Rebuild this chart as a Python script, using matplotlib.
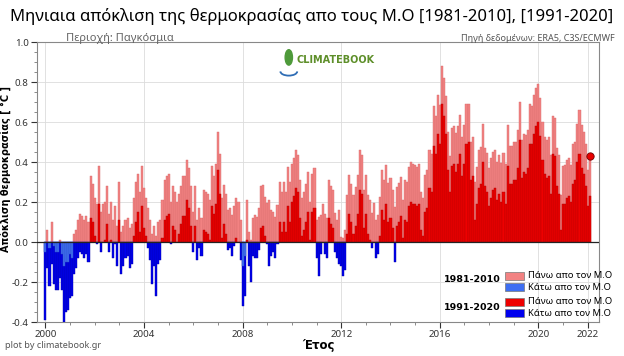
import numpy as np
import matplotlib.pyplot as plt
from matplotlib.patches import Rectangle, Ellipse, Arc

plt.rcParams['font.family'] = ['Noto Sans', 'DejaVu Sans']

# monthly anomalies, Jan 2000 - Feb 2022
anom_8110 = [
    -0.05, 0.06, -0.03, 0.10, -0.02, -0.05, -0.05, 0.01, -0.06, -0.12, -0.10, -0.10,
    -0.06, -0.08, 0.04, 0.06, 0.11, 0.14, 0.13, 0.11, 0.13, 0.10, 0.33, 0.29,
    0.22, 0.19, 0.38, 0.15, 0.19, 0.20, 0.28, 0.14, 0.20, 0.11, 0.18, 0.08,
    0.30, 0.05, 0.08, 0.11, 0.12, 0.07, 0.09, 0.22, 0.30, 0.34, 0.25, 0.38,
    0.27, 0.22, 0.17, 0.11, 0.04, 0.08, 0.03, 0.10, 0.11, 0.21, 0.31, 0.33,
    0.34, 0.20, 0.28, 0.25, 0.20, 0.24, 0.28, 0.33, 0.33, 0.41, 0.37, 0.28,
    0.15, 0.28, 0.11, 0.17, 0.12, 0.26, 0.25, 0.24, 0.21, 0.38, 0.33, 0.39,
    0.55, 0.44, 0.22, 0.285, 0.24, 0.16, 0.17, 0.135, 0.18, 0.22, 0.20, 0.11,
    -0.12, -0.07, 0.21, 0.05, 0.01, 0.12, 0.135, 0.127, 0.17, 0.28, 0.285, 0.227,
    0.193, 0.21, 0.16, 0.15, 0.127, 0.185, 0.30, 0.25, 0.30, 0.25, 0.377, 0.30,
    0.39, 0.42, 0.46, 0.435, 0.31, 0.22, 0.25, 0.29, 0.35, 0.20, 0.34, 0.37,
    0.11, 0.127, 0.135, 0.19, 0.14, 0.118, 0.31, 0.28, 0.26, 0.143, 0.11, 0.16,
    0.027, 0.018, 0.06, 0.235, 0.335, 0.29, 0.235, 0.277, 0.335, 0.46, 0.435, 0.26,
    0.335, 0.235, 0.21, 0.143, 0.193, 0.11, 0.135, 0.227, 0.36, 0.31, 0.385, 0.293,
    0.318, 0.26, 0.177, 0.277, 0.293, 0.327, 0.21, 0.31, 0.30, 0.377, 0.40, 0.39,
    0.385, 0.377, 0.39, 0.25, 0.22, 0.335, 0.36, 0.46, 0.44, 0.68, 0.63, 0.735,
    0.685, 0.88, 0.82, 0.73, 0.55, 0.43, 0.57, 0.58, 0.545, 0.58, 0.635, 0.525,
    0.585, 0.69, 0.69, 0.50, 0.525, 0.30, 0.377, 0.46, 0.477, 0.59, 0.468, 0.443,
    0.368, 0.418, 0.452, 0.46, 0.402, 0.435, 0.393, 0.443, 0.39, 0.585, 0.48, 0.48,
    0.50, 0.50, 0.56, 0.70, 0.51, 0.54, 0.535, 0.56, 0.69, 0.68, 0.735, 0.77,
    0.79, 0.72, 0.60, 0.527, 0.51, 0.527, 0.435, 0.63, 0.62, 0.47, 0.435, 0.235,
    0.38, 0.385, 0.41, 0.418, 0.385, 0.49, 0.50, 0.59, 0.66, 0.585, 0.55, 0.49,
    0.36, 0.43,
]
anom_9120 = [
    -0.39, -0.13, -0.22, -0.11, -0.21, -0.24, -0.24, -0.18, -0.24, -0.40, -0.35, -0.34,
    -0.28, -0.27, -0.16, -0.13, -0.08, -0.05, -0.06, -0.08, -0.06, -0.10, 0.12, 0.10,
    0.03, -0.01, 0.19, -0.05, 0.00, 0.01, 0.09, -0.05, 0.01, -0.08, -0.01, -0.12,
    0.11, -0.16, -0.12, -0.08, -0.07, -0.13, -0.11, 0.03, 0.10, 0.15, 0.05, 0.18,
    0.07, 0.03, -0.03, -0.09, -0.21, -0.12, -0.27, -0.11, -0.09, 0.02, 0.11, 0.13,
    0.14, -0.01, 0.08, 0.06, 0.00, 0.04, 0.09, 0.13, 0.13, 0.21, 0.17, 0.08,
    -0.05, 0.08, -0.09, -0.03, -0.07, 0.06, 0.05, 0.04, 0.01, 0.18, 0.14, 0.19,
    0.36, 0.24, 0.02, 0.09, 0.04, -0.04, -0.03, -0.07, -0.02, 0.02, 0.00, -0.09,
    -0.32, -0.27, 0.01, -0.12, -0.20, -0.07, -0.08, -0.08, -0.04, 0.07, 0.08, 0.03,
    -0.01, -0.12, -0.07, -0.05, -0.08, -0.01, 0.10, 0.05, 0.10, 0.05, 0.18, 0.10,
    0.20, 0.23, 0.27, 0.25, 0.12, 0.03, 0.06, 0.10, 0.15, 0.01, 0.15, 0.17,
    -0.08, -0.17, -0.06, 0.00, -0.06, -0.08, 0.12, 0.09, 0.07, -0.05, -0.08, -0.11,
    -0.12, -0.17, -0.14, 0.04, 0.14, 0.10, 0.04, 0.08, 0.14, 0.26, 0.24, 0.07,
    0.14, 0.04, 0.01, -0.03, 0.00, -0.08, -0.06, 0.03, 0.16, 0.11, 0.19, 0.10,
    0.12, 0.07, -0.10, 0.08, 0.10, 0.13, 0.02, 0.11, 0.10, 0.18, 0.20, 0.19,
    0.19, 0.18, 0.19, 0.06, 0.03, 0.15, 0.17, 0.27, 0.25, 0.48, 0.44, 0.54,
    0.49, 0.69, 0.63, 0.54, 0.36, 0.25, 0.38, 0.39, 0.35, 0.39, 0.44, 0.33,
    0.39, 0.49, 0.50, 0.31, 0.33, 0.11, 0.19, 0.27, 0.29, 0.40, 0.28, 0.25,
    0.18, 0.22, 0.26, 0.27, 0.21, 0.24, 0.20, 0.25, 0.19, 0.38, 0.29, 0.29,
    0.31, 0.31, 0.37, 0.51, 0.32, 0.35, 0.34, 0.37, 0.49, 0.49, 0.54, 0.58,
    0.60, 0.53, 0.41, 0.34, 0.32, 0.33, 0.24, 0.44, 0.43, 0.28, 0.24, 0.06,
    0.19, 0.19, 0.22, 0.23, 0.20, 0.29, 0.31, 0.40, 0.44, 0.37, 0.34, 0.28,
    0.18, 0.23,
]
last_value = 0.43
year_ticks = [2000, 2004, 2008, 2012, 2016, 2020, 2022]

L = np.array(anom_8110)
D = np.array(anom_9120)
t = 2000 + np.arange(len(L)) / 12
w = 1 / 12

c_lred, c_lblue = '#f28282', '#3d6ef2'
c_red, c_blue = '#ee0000', '#0000ee'
bold = dict(family=['DejaVu Sans'], weight='bold')

fig = plt.figure(figsize=(6.24, 3.56), dpi=100)
ax = fig.add_axes([0.0593, 0.0955, 0.9007, 0.7865])

ax.bar(t[L >= 0], L[L >= 0], w, color=c_lred, edgecolor='#d86a6a', lw=0.3, zorder=2)
ax.bar(t[D >= 0], D[D >= 0], w, color=c_red, edgecolor='#b00000', lw=0.3, zorder=3)
ax.bar(t[D < 0], D[D < 0], w, color=c_blue, edgecolor='#0000a8', lw=0.3, zorder=3)
ax.bar(t[L < 0], L[L < 0], w, color=c_lblue, edgecolor='#3050c0', lw=0.3, zorder=4)
ax.axhline(0, color='#222222', lw=0.9, zorder=5)
ax.scatter([t[-1]], [last_value], s=28, color='#e80000', edgecolor='#700000', lw=0.6, zorder=6)

ax.set_xlim(1999.66, 2022.46)
ax.set_ylim(-0.4, 1.0)
ax.set_xticks(year_ticks)
ax.set_xticks(np.arange(2000, 2023), minor=True)
ax.set_yticks(np.arange(-0.4, 1.01, 0.2))
ax.set_yticks(np.arange(-0.4, 1.01, 0.05), minor=True)
ax.set_yticklabels(['%.1f' % v for v in np.arange(-0.4, 1.01, 0.2)])
ax.tick_params(labelsize=7, colors='#333333', length=4, width=0.8, pad=2)
ax.tick_params(which='minor', length=2, width=0.6, colors='#777777')
ax.grid(color='#dcdcdc', lw=0.6, zorder=0)
for s in ax.spines.values():
    s.set_color('#888888')
    s.set_linewidth(0.8)

ax.set_ylabel('Απόκλιση θερμοκρασίας [ °C ]', fontsize=7, **bold)
ax.yaxis.set_label_coords(-0.047, 0.545)
ax.set_xlabel('Έτος', fontsize=8.5, labelpad=0, **bold)

fig.text(0.5, 0.955, 'Μηνιαια απόκλιση της θερμοκρασίας απο τους Μ.Ο [1981-2010], [1991-2020]',
         ha='center', va='center', fontsize=12)
fig.text(0.105, 0.893, 'Περιοχή: Παγκόσμια', fontsize=8, color='#666666', va='center')
fig.text(0.985, 0.893, 'Πηγή δεδομένων: ERA5, C3S/ECMWF', fontsize=6.5, color='#555555',
         ha='right', va='center')
fig.text(0.008, 0.022, 'plot by climatebook.gr', fontsize=6.5, color='#555555')

# logo
ax.add_patch(Ellipse((0.448, 0.945), 0.013, 0.055, transform=ax.transAxes,
                     color='#4e9a3a', zorder=6))
ax.add_patch(Arc((0.448, 0.895), 0.03, 0.03, theta1=180, theta2=360, transform=ax.transAxes,
                 ec='#2f6db5', lw=1.3, zorder=6))
ax.text(0.461, 0.935, 'CLIMATEBOOK', transform=ax.transAxes, fontsize=7, color='#5e8f2a',
        va='center', ha='left', zorder=6, **bold)

# legend
fx = lambda px: px / 624
fy = lambda py: 1 - py / 356
for y_lab, y1, y2, lab, ca, cb in [(280, 275.5, 287, '1981-2010', c_lred, c_lblue),
                                    (308, 301.5, 313, '1991-2020', c_red, c_blue)]:
    fig.text(fx(501), fy(y_lab), lab, ha='right', va='center', fontsize=6.8, **bold)
    for yy, cc, txt in [(y1, ca, 'Πάνω απο τον Μ.Ο'), (y2, cb, 'Κάτω απο τον Μ.Ο')]:
        fig.patches.append(Rectangle((fx(505), fy(yy + 4)), fx(19), 8 / 356, color=cc,
                                     ec='#777777', lw=0.5, transform=fig.transFigure, figure=fig))
        fig.text(fx(528), fy(yy), txt, va='center', fontsize=6.8)

fig.savefig('out.png', dpi=100)
